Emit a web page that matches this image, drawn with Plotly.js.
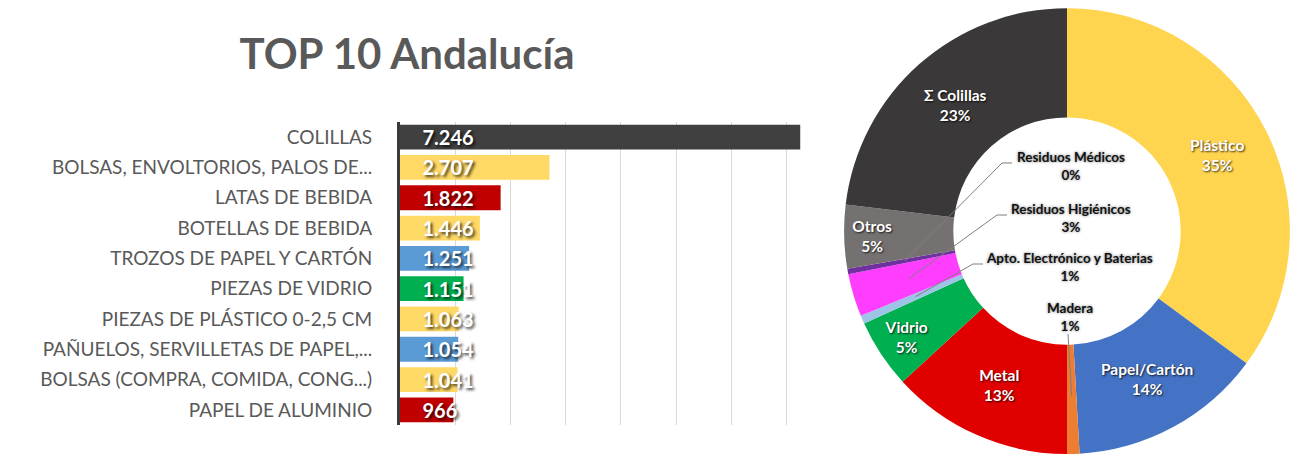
<!DOCTYPE html>
<html>
<head>
<meta charset="utf-8">
<script src="https://cdn.plot.ly/plotly-3.0.1.min.js"></script>
<style>
  html, body { margin: 0; padding: 0; background: #fff; }
  #chart { width: 1292px; height: 454px; }
</style>
</head>
<body>
<div id="chart"></div>
<script>
// ---------------- DATA ----------------
const barCategories = [
  'COLILLAS',
  'BOLSAS, ENVOLTORIOS, PALOS DE...',
  'LATAS DE BEBIDA',
  'BOTELLAS DE BEBIDA',
  'TROZOS DE PAPEL Y CARTÓN',
  'PIEZAS DE VIDRIO',
  'PIEZAS DE PLÁSTICO 0-2,5 CM',
  'PAÑUELOS, SERVILLETAS DE PAPEL,...',
  'BOLSAS (COMPRA, COMIDA, CONG...)',
  'PAPEL DE ALUMINIO'
];
const barValues = [7246, 2707, 1822, 1446, 1251, 1151, 1063, 1054, 1041, 966];

const pieLabels = [
  'Plástico', 'Papel/Cartón', 'Madera', 'Metal', 'Vidrio',
  'Apto. Electrónico y Baterias', 'Residuos Higiénicos', 'Residuos Médicos',
  'Otros', 'Σ Colillas'
];
const pieValues = [35.1, 14.0, 0.9, 13.2, 5.0, 0.6, 3.1, 0.4, 4.6, 23.1];

// ---------------- STYLES ----------------
const barColors = ['#404040', '#FFD966', '#C00000', '#FFD966', '#5B9BD5',
                   '#00B050', '#FFD966', '#5B9BD5', '#FFD966', '#C00000'];
const pieColors = ['#FFD54F', '#4472C4', '#ED7D31', '#E00000', '#00B050',
                   '#9DC3E6', '#FF3DFF', '#7030A0', '#767171', '#3A3838'];
// slices whose label is drawn in the hole with a leader line
const holeLabelSlices = ['Residuos Médicos', 'Residuos Higiénicos', 'Apto. Electrónico y Baterias', 'Madera'];
// label anchor positions in the hole (pixels) and leader-line start points
const holeLabelPos = {
  'Residuos Médicos':            {x: 1071, y: 166, lx: 1012, ly: 163, ex: 1002},
  'Residuos Higiénicos':         {x: 1071, y: 218, lx: 1007, ly: 215, ex: 997},
  'Apto. Electrónico y Baterias':{x: 1069, y: 267, lx: 983,  ly: 264, ex: 973},
  'Madera':                      {x: 1070, y: 317, lx: 1068, ly: 334, ex: 1068}
};

const W = 1292, H = 454;
const FONT = 'Lato, "Open Sans", sans-serif';

// pie geometry (domain in paper fraction)
const pieDomX = [842 / W, 1.0];
const pieDomY = [0, 0.982];
const pieCx = (pieDomX[0] + pieDomX[1]) / 2 * W;
const pieR = Math.min((pieDomX[1] - pieDomX[0]) * W, (pieDomY[1] - pieDomY[0]) * H) / 2;
const pieCy = H - (pieDomY[0] + pieDomY[1]) / 2 * H;
const holeFrac = 0.51;

const total = pieValues.reduce((a, b) => a + b, 0);
const nbsp = '\u00a0\u00a0\u00a0\u00a0';

const barTrace = {
  type: 'bar',
  orientation: 'h',
  x: barValues,
  y: barCategories,
  marker: {color: barColors, line: {width: 0}},
  texttemplate: nbsp + '%{x:,.0f}',
  textposition: 'inside',
  insidetextanchor: 'start',
  constraintext: 'none',
  cliponaxis: false,
  textfont: {family: FONT, size: 20, color: '#ffffff', weight: 'bold',
             shadow: '2px 2px 3px rgba(0,0,0,0.75)'},
  hoverinfo: 'x+y',
  xaxis: 'x', yaxis: 'y'
};

const pieTexts = pieLabels.map(l => holeLabelSlices.includes(l) ? '' : '%{label}<br>%{percent:.0%}');

const pieTrace = {
  type: 'pie',
  labels: pieLabels,
  values: pieValues,
  sort: false,
  direction: 'clockwise',
  rotation: 0,
  hole: holeFrac,
  domain: {x: pieDomX, y: pieDomY},
  marker: {colors: pieColors, line: {width: 0}},
  texttemplate: pieTexts,
  textposition: 'inside',
  insidetextorientation: 'horizontal',
  insidetextfont: {family: FONT, size: 15.5, color: '#ffffff', weight: 'bold',
                   shadow: '1px 1px 2px rgba(0,0,0,0.8)'},
  showlegend: false
};

// annotations + leader lines for the small slices, pointing at slice mid-angles
const annotations = [];
const shapes = [];
let cum = 0;
pieValues.forEach((v, i) => {
  const start = cum; cum += v;
  const lbl = pieLabels[i];
  if (!holeLabelSlices.includes(lbl)) return;
  const mid = (start + v / 2) / total * 2 * Math.PI;
  const rr = pieR * (holeFrac + 0.23);
  const hx = pieCx + rr * Math.sin(mid);
  const hy = pieCy - rr * Math.cos(mid);
  const p = holeLabelPos[lbl];
  const pct = Math.round(v / total * 100);
  annotations.push({
    xref: 'paper', yref: 'paper',
    x: p.x / W, y: 1 - p.y / H,
    xanchor: 'center', yanchor: 'middle',
    text: '<b>' + lbl + '</b><br><b>' + pct + '%</b>',
    showarrow: false,
    font: {family: FONT, size: 13.5, color: '#111111', shadow: '0px 0px 3px rgba(0,0,0,0.55)'},
    align: 'center'
  });
  shapes.push({
    type: 'path', xref: 'paper', yref: 'paper',
    path: 'M' + (p.lx / W) + ',' + (1 - p.ly / H) +
          ' L' + (p.ex / W) + ',' + (1 - p.ly / H) +
          ' L' + (hx / W) + ',' + (1 - hy / H),
    line: {color: '#7f7f7f', width: 1}
  });
});

const layout = {
  width: W, height: H,
  margin: {l: 0, r: 0, t: 0, b: 0},
  paper_bgcolor: '#ffffff',
  plot_bgcolor: '#ffffff',
  separators: ',.',
  showlegend: false,
  font: {family: FONT, color: '#595959'},
  title: {
    text: '<b>TOP 10 Andalucía</b>',
    xref: 'paper', yref: 'container',
    x: 407 / W, xanchor: 'center',
    y: 1 - 54 / H, yanchor: 'middle',
    font: {family: FONT, size: 42, color: '#595959'}
  },
  xaxis: {
    domain: [400 / W, 801 / W],
    range: [0, 7260],
    dtick: 1000,
    showgrid: true,
    gridcolor: '#D9D9D9',
    gridwidth: 1,
    zeroline: false,
    showticklabels: false,
    showline: false,
    fixedrange: true
  },
  yaxis: {
    domain: [(H - 425) / H, (H - 122) / H],
    autorange: 'reversed',
    type: 'category',
    showgrid: false,
    zeroline: false,
    showline: true,
    linecolor: '#3a3a3a',
    linewidth: 3,
    ticks: '',
    ticklabelstandoff: 21,
    automargin: false,
    tickfont: {family: FONT, size: 19, color: '#595959'},
    fixedrange: true
  },
  bargap: 0.18,
  annotations: annotations,
  shapes: shapes
};

Plotly.newPlot('chart', [barTrace, pieTrace], layout, {displayModeBar: false, staticPlot: true});
</script>
</body>
</html>
